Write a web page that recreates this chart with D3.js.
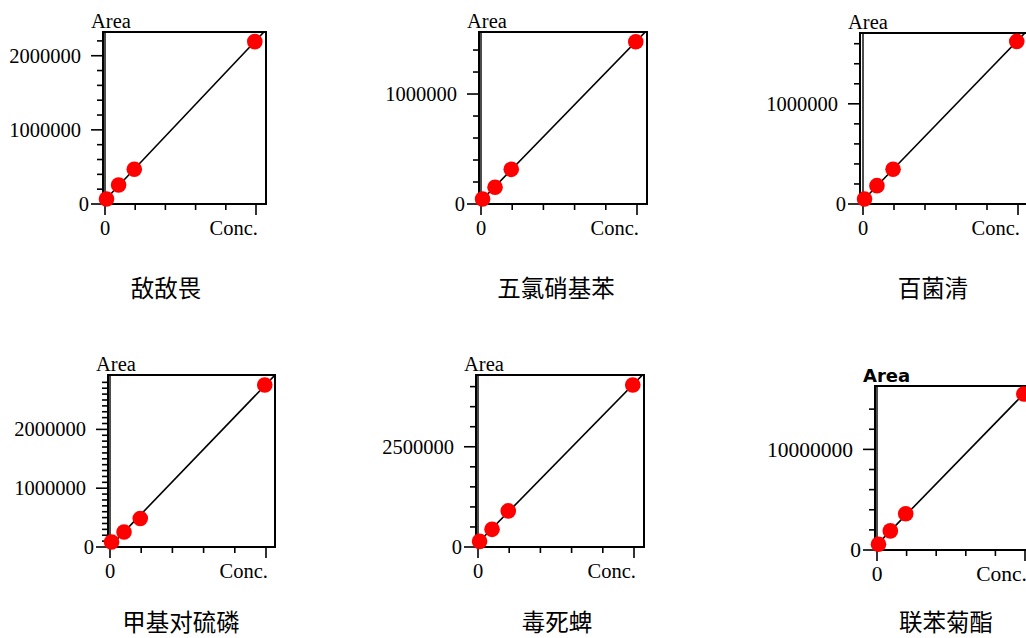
<!DOCTYPE html>
<html>
<head>
<meta charset="utf-8">
<script src="https://cdn.jsdelivr.net/npm/d3@7"></script>
<style>
  html, body { margin: 0; padding: 0; background: #fff; }
  svg { display: block; }
</style>
</head>
<body>
<svg id="chart" width="1026" height="638"></svg>
<script>
// ---- data ----
const titles = ["敌敌畏", "五氯硝基苯", "百菌清", "甲基对硫磷", "毒死蜱", "联苯菊酯"];
const conc = [0.005, 0.045, 0.097, 0.496];
const areaDichlorvos = [68000, 257000, 469000, 2190000];
const areaQuintozene = [45000, 152000, 315000, 1475000];
const areaChlorothalonil = [50000, 183000, 347000, 1623000];
const areaParathionMethyl = [85000, 256000, 484000, 2755000];
const areaChlorpyrifos = [140000, 440000, 900000, 4040000];
const areaBifenthrin = [570000, 1900000, 3600000, 15500000];
const seriesAreas = [areaDichlorvos, areaQuintozene, areaChlorothalonil,
                     areaParathionMethyl, areaChlorpyrifos, areaBifenthrin];
const yMax = [2320000, 1564000, 1707000, 2925000, 4290000, 16300000];
const yMajorTicks = [[0, 1000000, 2000000], [0, 1000000], [0, 1000000],
                     [0, 1000000, 2000000], [0, 2500000], [0, 10000000]];
const yMinorStep = [200000, 200000, 200000, 100000, 500000, 2000000];
const xMajorTicks = [0, 0.5];
const xMinorTicks = [0.1, 0.2, 0.3, 0.4];
const xLabel = "Conc.";
const yLabel = "Area";

// ---- layout (pixels) ----
const layout = [
  {left: 103, right: 266, top: 32, bottom: 204, x0: 105, x5: 256, cx: 166, ty: 297, fs: 20.5},
  {left: 479, right: 647, top: 32, bottom: 204, x0: 481, x5: 637, cx: 556, ty: 297, fs: 20.5},
  {left: 860, right: 1032, top: 33, bottom: 204, x0: 863, x5: 1018, cx: 933, ty: 297, fs: 20.5},
  {left: 108, right: 275, top: 375, bottom: 547, x0: 110, x5: 266, cx: 181, ty: 631, fs: 20.5},
  {left: 476, right: 644, top: 375, bottom: 547, x0: 478, x5: 634, cx: 557, ty: 631, fs: 20.5},
  {left: 875, right: 1036, top: 386, bottom: 550, x0: 877, x5: 1025, cx: 946, ty: 631, fs: 21.5}
];

const svg = d3.select("#chart");
const serif = "'Liberation Serif', 'Times New Roman', serif";

seriesAreas.forEach((areas, i) => {
  const L = layout[i];
  const x = d3.scaleLinear().domain([0, 0.5]).range([L.x0, L.x5]);
  const y = d3.scaleLinear().domain([0, yMax[i]]).range([L.bottom, L.top]);
  const g = svg.append("g");

  const clipId = "clip" + i;
  g.append("clipPath").attr("id", clipId).append("rect")
    .attr("x", L.left).attr("y", L.top)
    .attr("width", L.right - L.left).attr("height", L.bottom - L.top);

  // y ticks (outward, left)
  const minor = d3.range(0, yMax[i] - yMinorStep[i] * 0.3, yMinorStep[i])
    .filter(v => !yMajorTicks[i].includes(v));
  g.selectAll(".ymin").data(minor).join("line")
    .attr("x1", L.left - 6).attr("x2", L.left)
    .attr("y1", d => y(d)).attr("y2", d => y(d))
    .attr("stroke", "#000").attr("stroke-width", 1.6);
  g.selectAll(".ymaj").data(yMajorTicks[i]).join("line")
    .attr("x1", L.left - 12).attr("x2", L.left)
    .attr("y1", d => y(d)).attr("y2", d => y(d))
    .attr("stroke", "#000").attr("stroke-width", 1.6);
  g.selectAll(".ylab").data(yMajorTicks[i]).join("text")
    .attr("x", d => d === 0 ? L.left - 14 : L.left - 22)
    .attr("y", d => y(d))
    .attr("dy", "0.34em")
    .attr("text-anchor", "end")
    .attr("font-family", serif).attr("font-size", L.fs)
    .text(d => String(d));

  // x ticks (outward, down)
  g.selectAll(".xmin").data(xMinorTicks).join("line")
    .attr("x1", d => x(d)).attr("x2", d => x(d))
    .attr("y1", L.bottom + 1).attr("y2", L.bottom + 6)
    .attr("stroke", "#000").attr("stroke-width", 1.6);
  g.selectAll(".xmaj").data(xMajorTicks).join("line")
    .attr("x1", d => x(d)).attr("x2", d => x(d))
    .attr("y1", L.bottom).attr("y2", L.bottom + 11)
    .attr("stroke", "#000").attr("stroke-width", 1.6);
  g.append("text")
    .attr("x", x(0)).attr("y", L.bottom + 31)
    .attr("text-anchor", "middle")
    .attr("font-family", serif).attr("font-size", L.fs)
    .text("0");
  g.append("text")
    .attr("x", x(0.5) + 2).attr("y", L.bottom + 31)
    .attr("text-anchor", "end")
    .attr("font-family", serif).attr("font-size", L.fs)
    .text(xLabel);

  // axis label
  const ay = g.append("text")
    .attr("x", L.left - 12).attr("y", L.top - 4)
    .text(yLabel);
  if (i === 5) {
    ay.attr("font-family", "'DejaVu Sans', sans-serif").attr("font-weight", "bold").attr("font-size", 18);
  } else {
    ay.attr("font-family", serif).attr("font-size", 20.5);
  }

  // regression line
  const mx = d3.mean(conc), my = d3.mean(areas);
  const sxy = d3.sum(conc.map((c, k) => (c - mx) * (areas[k] - my)));
  const sxx = d3.sum(conc.map(c => (c - mx) * (c - mx)));
  const slope = sxy / sxx, icpt = my - slope * mx;
  const xEnd = x.invert(L.right + 5);
  const lineData = [[conc[0], icpt + slope * conc[0]], [xEnd, icpt + slope * xEnd]];
  g.append("path")
    .attr("clip-path", `url(#${clipId})`)
    .attr("d", d3.line().x(d => x(d[0])).y(d => y(d[1]))(lineData))
    .attr("fill", "none").attr("stroke", "#000").attr("stroke-width", 1.6);

  // box
  g.append("rect")
    .attr("x", L.left).attr("y", L.top)
    .attr("width", L.right - L.left).attr("height", L.bottom - L.top)
    .attr("fill", "none").attr("stroke", "#000").attr("stroke-width", 2);
  // y axis line at x = 0
  g.append("line")
    .attr("x1", x(0)).attr("x2", x(0))
    .attr("y1", L.top).attr("y2", L.bottom)
    .attr("stroke", "#000").attr("stroke-width", 1.4);

  // points
  g.selectAll(".pt").data(conc.map((c, k) => [c, areas[k]])).join("circle")
    .attr("cx", d => x(d[0])).attr("cy", d => y(d[1]))
    .attr("r", 7.8).attr("fill", "#ff0000");

  // title
  g.append("text")
    .attr("x", L.cx).attr("y", L.ty)
    .attr("text-anchor", "middle")
    .attr("font-family", "'Noto Sans CJK SC', sans-serif")
    .attr("font-weight", 400)
    .attr("font-size", 23.5)
    .text(titles[i]);
});
</script>
</body>
</html>
